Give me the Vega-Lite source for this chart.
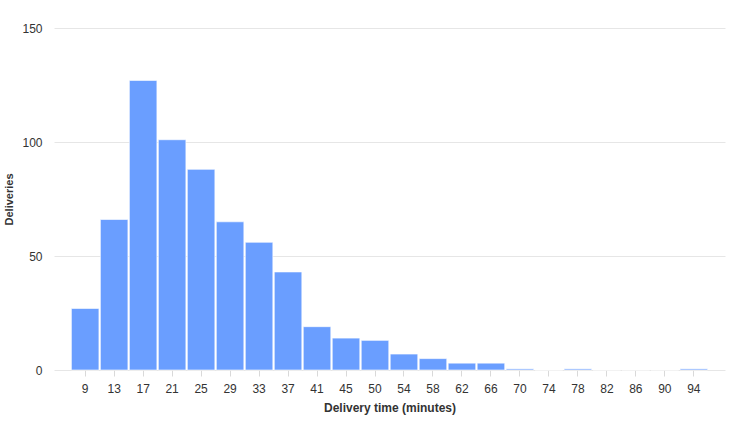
{
  "$schema": "https://vega.github.io/schema/vega-lite/v6.json",
  "autosize": "none",
  "width": 671,
  "height": 342,
  "padding": {"left": 54, "top": 28, "right": 11, "bottom": 65},
  "background": "white",
  "config": {
    "font": "Liberation Sans",
    "view": {"stroke": null}
  },
  "data": {
    "values": [
      {"bin": "9", "count": 27},
      {"bin": "13", "count": 66},
      {"bin": "17", "count": 127},
      {"bin": "21", "count": 101},
      {"bin": "25", "count": 88},
      {"bin": "29", "count": 65},
      {"bin": "33", "count": 56},
      {"bin": "37", "count": 43},
      {"bin": "41", "count": 19},
      {"bin": "45", "count": 14},
      {"bin": "50", "count": 13},
      {"bin": "54", "count": 7},
      {"bin": "58", "count": 5},
      {"bin": "62", "count": 3},
      {"bin": "66", "count": 3},
      {"bin": "70", "count": 0.5},
      {"bin": "74", "count": 0},
      {"bin": "78", "count": 0.5},
      {"bin": "82", "count": 0},
      {"bin": "86", "count": 0},
      {"bin": "90", "count": 0},
      {"bin": "94", "count": 0.5}
    ]
  },
  "mark": {"type": "bar", "color": "#6a9eff", "stroke": "#ffffff", "strokeOpacity": 0.6, "strokeWidth": 1},
  "encoding": {
    "x": {
      "field": "bin",
      "type": "ordinal",
      "sort": null,
      "scale": {"paddingInner": 0.05, "paddingOuter": 0.6},
      "axis": {
        "title": "Delivery time (minutes)",
        "titleFontSize": 12,
        "titleFontWeight": "bold",
        "titleColor": "#333333",
        "titlePadding": 8,
        "labelAngle": 0,
        "labelFontSize": 12,
        "labelColor": "#333333",
        "labelPadding": 7,
        "domain": false,
        "ticks": true,
        "tickColor": "#d9d9d9",
        "tickSize": 6,
        "grid": false
      }
    },
    "y": {
      "field": "count",
      "type": "quantitative",
      "scale": {"domain": [0, 150], "nice": false},
      "axis": {
        "title": "Deliveries",
        "titleFontSize": 11,
        "titleFontWeight": "bold",
        "titleColor": "#333333",
        "titlePadding": 7,
        "values": [0, 50, 100, 150],
        "labelFontSize": 12,
        "labelColor": "#333333",
        "labelPadding": 12,
        "ticks": false,
        "domain": false,
        "grid": true,
        "gridColor": "#e6e6e6",
        "gridWidth": 1
      }
    }
  }
}
